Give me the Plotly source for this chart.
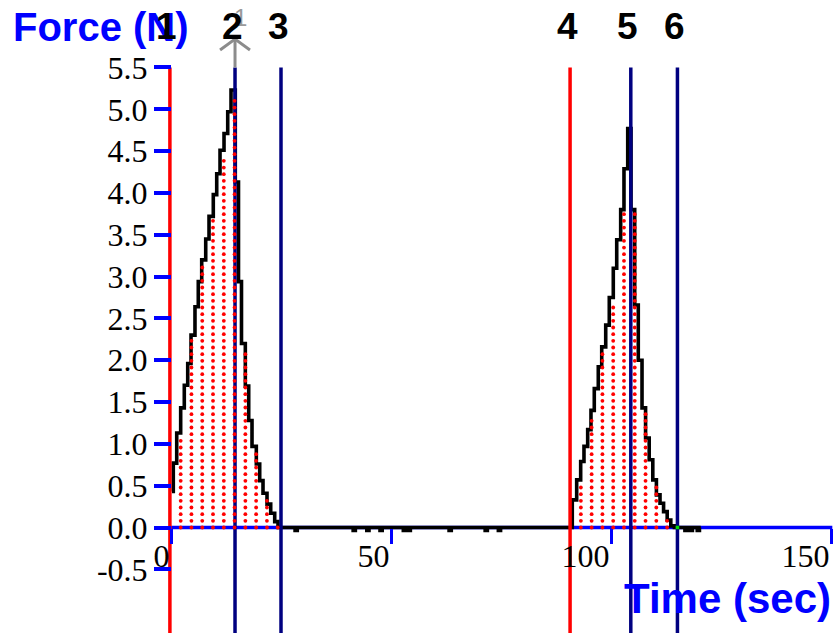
import numpy as np
import plotly.graph_objects as go

# ---- data -------------------------------------------------------------
# Each sample: time (s) at which the sampled force level (N) begins.
pulse1_time = [0.23, 0.52, 1.30, 2.20, 3.02, 3.80, 4.55, 5.45, 6.20, 6.98, 7.89, 8.64,
               9.61, 10.39, 11.14, 12.05, 12.89, 13.64, 14.61, 15.34, 16.02, 16.89,
               17.66, 18.41, 19.39, 20.16, 20.91, 21.82, 22.66, 23.57, 24.32]
pulse1_force = [0.43, 0.77, 1.13, 1.43, 1.70, 1.96, 2.30, 2.64, 2.94, 3.20, 3.45, 3.72,
                3.98, 4.23, 4.51, 4.71, 4.97, 5.23, 4.13, 2.94, 2.20, 1.69,
                1.28, 0.97, 0.76, 0.56, 0.41, 0.28, 0.17, 0.07, 0.00]

gap_time = [28.2, 28.7, 41.4, 41.9, 44.5, 45.0, 47.5, 48.0, 52.8, 53.3,
            53.9, 54.4, 63.2, 63.7, 71.4, 71.9, 74.4, 74.9]
gap_force = [-0.035, 0.0, -0.035, 0.0, -0.035, 0.0, -0.035, 0.0, -0.035, 0.0,
             -0.035, 0.0, -0.035, 0.0, -0.035, 0.0, -0.035, 0.0]

pulse2_time = [91.20, 92.20, 93.11, 93.86, 94.70, 95.45, 96.20, 97.11, 97.89, 98.80,
               99.61, 100.52, 101.30, 102.20, 102.95, 103.80, 104.55, 105.39, 106.20,
               107.05, 107.86, 108.68, 109.50, 110.32, 111.14, 111.95, 112.77, 113.59,
               114.41]
pulse2_force = [0.33, 0.57, 0.79, 0.97, 1.17, 1.40, 1.66, 1.92, 2.16, 2.42,
                2.75, 3.10, 3.44, 3.80, 4.29, 4.77, 3.80, 2.66, 2.00,
                1.43, 1.07, 0.81, 0.57, 0.39, 0.29, 0.19, 0.09, 0.02,
                0.00]

tail_time = [116.8, 117.3, 118.0, 118.5, 119.6, 120.1, 120.4]
tail_force = [-0.035, 0.0, -0.035, 0.0, -0.035, 0.0, 0.0]

# analysis cursors (s) and their labels
cursor_time = [-0.25, 14.55, 25.0, 90.7, 104.5, 115.1]
cursor_label = ["1", "2", "3", "4", "5", "6"]
cursor_color = ["#FF0000", "#000080", "#000080", "#FF0000", "#000080", "#000080"]
# integration regions given as (first cursor, last cursor) indices
regions = [(0, 2), (3, 5)]

x_ticks = [0, 50, 100, 150]
y_ticks = [-0.5, 0.0, 0.5, 1.0, 1.5, 2.0, 2.5, 3.0, 3.5, 4.0, 4.5, 5.0, 5.5]

# ---- geometry -----------------------------------------------------------
W, H = 835, 633
x_range = [-38.864, 150.909]
y_range = [-1.2613, 6.3068]
BLUE = "#0000FF"

time = np.array(pulse1_time + gap_time + pulse2_time + tail_time)
force = np.array(pulse1_force + gap_force + pulse2_force + tail_force)


def level_at(t):
    i = np.searchsorted(time, t, side="right") - 1
    return force[i] if i >= 0 else 0.0


fig = go.Figure()

# force trace, sample-and-hold steps
fig.add_trace(go.Scatter(x=time, y=force, mode="lines", line_shape="hv",
                         line=dict(color="black", width=3.6), hoverinfo="skip"))

# cursor lines
for t, c in zip(cursor_time, cursor_color):
    fig.add_trace(go.Scatter(x=[t, t], y=[y_ticks[-1], y_range[0] - 0.1], mode="lines",
                             line=dict(color=c, width=3.5), hoverinfo="skip"))

# dotted fill marking the integrated area between cursors
col_step, row_step = 2.45, 0.0797
dot_x, dot_y = [], []
for a, b in regions:
    t0, t1 = cursor_time[a], cursor_time[b]
    k = 1
    while t0 + k * col_step < t1:
        tc = t0 + k * col_step
        top = level_at(tc - 0.1) - 0.05
        j = 0
        while j * row_step <= top:
            dot_x.append(tc)
            dot_y.append(j * row_step)
            j += 1
        k += 1
fig.add_trace(go.Scatter(x=dot_x, y=dot_y, mode="markers",
                         marker=dict(color="#FF0000", size=3.8, line=dict(width=0)),
                         hoverinfo="skip"))

# small green point where the last cursor meets the trace
fig.add_trace(go.Scatter(x=[cursor_time[5]], y=[0.0], mode="markers",
                         marker=dict(color="#00E000", size=3.5, symbol="square",
                                     line=dict(width=0)), hoverinfo="skip"))

# grey marker arrow above cursor 2
ax_t = cursor_time[1]
tip = 5.84
fig.add_trace(go.Scatter(x=[ax_t, ax_t], y=[y_ticks[-1], tip], mode="lines",
                         line=dict(color="#8C8C8C", width=3), hoverinfo="skip"))
fig.add_trace(go.Scatter(x=[ax_t - 3.4, ax_t, ax_t + 3.4], y=[tip - 0.13, tip, tip - 0.13],
                         mode="lines", line=dict(color="#8C8C8C", width=3),
                         hoverinfo="skip"))

# x axis line along zero force
fig.add_shape(type="line", xref="x", yref="y", x0=0, x1=150.3, y0=0, y1=0,
              line=dict(color=BLUE, width=3.5), layer="below")

x0_frac = (0 - x_range[0]) / (x_range[1] - x_range[0])
y0_frac = (0 - y_range[0]) / (y_range[1] - y_range[0])

tick_font = dict(family="Liberation Serif", size=32, color="black")
fig.update_layout(
    width=W, height=H, autosize=False,
    margin=dict(l=0, r=0, t=0, b=0, pad=0),
    paper_bgcolor="white", plot_bgcolor="white", showlegend=False,
    xaxis=dict(range=x_range, domain=[0, 1], anchor="free", position=y0_frac,
               tickmode="array", tickvals=x_ticks, ticktext=[str(v) for v in x_ticks],
               ticks="outside", ticklen=15, tickwidth=3, tickcolor=BLUE,
               ticklabelposition="outside left", tickfont=tick_font,
               showgrid=False, zeroline=False, showline=False, automargin=False),
    yaxis=dict(range=y_range, domain=[0, 1], anchor="free", position=x0_frac,
               tickmode="array", tickvals=y_ticks,
               ticktext=[f"{v:.1f}" for v in y_ticks],
               ticks="outside", ticklen=17, tickwidth=3.5, tickcolor=BLUE,
               tickfont=tick_font,
               showgrid=False, zeroline=False, showline=False, automargin=False),
)

# axis titles
fig.add_annotation(text="<b>Force (N)</b>", xref="paper", yref="paper",
                   x=11 / W, y=1 - 27 / H, xanchor="left", yanchor="middle",
                   showarrow=False,
                   font=dict(family="Liberation Sans", size=40, color=BLUE))
fig.add_annotation(text="<b>Time (sec)</b>", xref="paper", yref="paper",
                   x=833 / W, y=1 - 598 / H, xanchor="right", yanchor="middle",
                   showarrow=False,
                   font=dict(family="Liberation Sans", size=42, color=BLUE))

# grey tag behind cursor 2's label
fig.add_annotation(text="1", xref="x", yref="paper", x=ax_t, y=1 - 17 / H,
                   xshift=5, yanchor="middle", showarrow=False,
                   font=dict(family="Liberation Sans", size=24, color="#9A9A9A"))

# cursor labels
for t, lab in zip(cursor_time, cursor_label):
    fig.add_annotation(text=f"<b>{lab}</b>", xref="x", yref="paper", x=t,
                       y=1 - 27 / H, xshift=-3, yanchor="middle", showarrow=False,
                       font=dict(family="Liberation Sans", size=37, color="black"))

fig.write_html("out.html")
